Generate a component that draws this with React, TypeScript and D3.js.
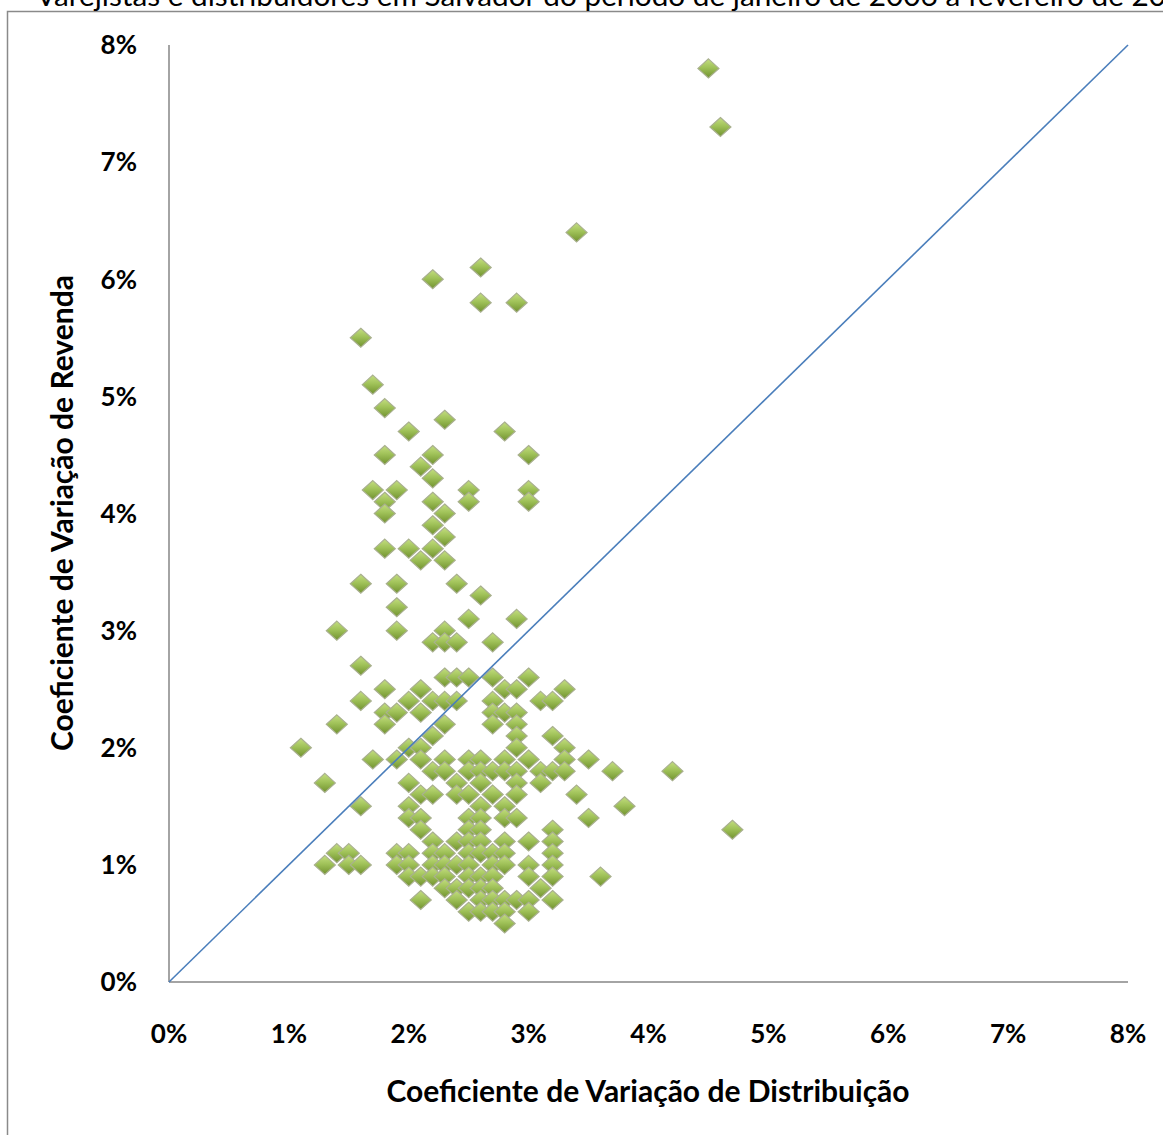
import React, { useEffect, useRef } from 'react';
import * as d3 from 'd3';

// Coeficiente de variação: [distribuição %, revenda %]
const pontos: [number, number][] = [
  [4.5, 7.8], [4.6, 7.3], [3.4, 6.4], [2.6, 6.1], [2.2, 6.0], [2.6, 5.8], [2.9, 5.8],
  [1.6, 5.5], [1.7, 5.1], [1.8, 4.9], [2.3, 4.8], [2.0, 4.7], [2.8, 4.7],
  [1.8, 4.5], [2.2, 4.5], [3.0, 4.5], [2.1, 4.4], [2.2, 4.3],
  [1.7, 4.2], [1.9, 4.2], [2.5, 4.2], [3.0, 4.2],
  [1.8, 4.1], [2.2, 4.1], [2.5, 4.1], [3.0, 4.1],
  [1.8, 4.0], [2.3, 4.0], [2.2, 3.9], [2.3, 3.8],
  [1.8, 3.7], [2.0, 3.7], [2.2, 3.7], [2.1, 3.6], [2.3, 3.6],
  [1.6, 3.4], [1.9, 3.4], [2.4, 3.4], [2.6, 3.3], [1.9, 3.2], [2.5, 3.1], [2.9, 3.1],
  [1.4, 3.0], [1.9, 3.0], [2.3, 3.0],
  [2.2, 2.9], [2.3, 2.9], [2.4, 2.9], [2.7, 2.9],
  [1.6, 2.7],
  [2.3, 2.6], [2.4, 2.6], [2.5, 2.6], [2.7, 2.6], [3.0, 2.6],
  [1.8, 2.5], [2.1, 2.5], [2.8, 2.5], [2.9, 2.5], [3.3, 2.5],
  [1.6, 2.4], [2.0, 2.4], [2.2, 2.4], [2.3, 2.4], [2.4, 2.4], [2.7, 2.4], [3.1, 2.4], [3.2, 2.4],
  [1.8, 2.3], [1.9, 2.3], [2.1, 2.3], [2.7, 2.3], [2.8, 2.3], [2.9, 2.3],
  [1.4, 2.2], [1.8, 2.2], [2.3, 2.2], [2.7, 2.2], [2.9, 2.2],
  [2.2, 2.1], [2.9, 2.1], [3.2, 2.1],
  [1.1, 2.0], [2.0, 2.0], [2.1, 2.0], [2.9, 2.0], [3.3, 2.0],
  [1.7, 1.9], [1.9, 1.9], [2.1, 1.9], [2.3, 1.9], [2.5, 1.9], [2.6, 1.9], [2.8, 1.9], [3.0, 1.9], [3.3, 1.9], [3.5, 1.9],
  [2.2, 1.8], [2.3, 1.8], [2.5, 1.8], [2.6, 1.8], [2.7, 1.8], [2.8, 1.8], [2.9, 1.8], [3.1, 1.8], [3.2, 1.8], [3.3, 1.8], [3.7, 1.8], [4.2, 1.8],
  [1.3, 1.7], [2.0, 1.7], [2.4, 1.7], [2.6, 1.7], [2.9, 1.7], [3.1, 1.7],
  [2.1, 1.6], [2.2, 1.6], [2.4, 1.6], [2.5, 1.6], [2.7, 1.6], [2.9, 1.6], [3.4, 1.6],
  [1.6, 1.5], [2.0, 1.5], [2.6, 1.5], [2.8, 1.5], [3.8, 1.5],
  [2.0, 1.4], [2.1, 1.4], [2.5, 1.4], [2.6, 1.4], [2.8, 1.4], [2.9, 1.4], [3.5, 1.4],
  [2.1, 1.3], [2.5, 1.3], [2.6, 1.3], [3.2, 1.3], [4.7, 1.3],
  [2.2, 1.2], [2.4, 1.2], [2.5, 1.2], [2.6, 1.2], [2.8, 1.2], [3.0, 1.2], [3.2, 1.2],
  [1.4, 1.1], [1.5, 1.1], [1.9, 1.1], [2.0, 1.1], [2.2, 1.1], [2.3, 1.1], [2.5, 1.1], [2.6, 1.1], [2.7, 1.1], [2.8, 1.1], [3.2, 1.1],
  [1.3, 1.0], [1.5, 1.0], [1.6, 1.0], [1.9, 1.0], [2.0, 1.0], [2.2, 1.0], [2.3, 1.0], [2.4, 1.0], [2.5, 1.0], [2.7, 1.0], [2.8, 1.0], [3.0, 1.0], [3.2, 1.0],
  [2.0, 0.9], [2.1, 0.9], [2.2, 0.9], [2.3, 0.9], [2.5, 0.9], [2.6, 0.9], [2.7, 0.9], [3.0, 0.9], [3.2, 0.9], [3.6, 0.9],
  [2.3, 0.8], [2.4, 0.8], [2.5, 0.8], [2.6, 0.8], [2.7, 0.8], [3.1, 0.8],
  [2.1, 0.7], [2.4, 0.7], [2.6, 0.7], [2.7, 0.7], [2.8, 0.7], [2.9, 0.7], [3.0, 0.7], [3.2, 0.7],
  [2.5, 0.6], [2.6, 0.6], [2.7, 0.6], [2.8, 0.6], [3.0, 0.6],
  [2.8, 0.5],
];

// reta de referência y = x
const diagonal: [number, number][] = [[0, 0], [8, 8]];

const ticks = [0, 1, 2, 3, 4, 5, 6, 7, 8];

const titulo = 'Varejistas e distribuidores em Salvador do período de janeiro de 2006 a fevereiro de 20';
const tituloX = 'Coeficiente de Variação de Distribuição';
const tituloY = 'Coeficiente de Variação de Revenda';

export default function App() {
  const svgRef = useRef<SVGSVGElement>(null);

  useEffect(() => {
    const width = 1163;
    const height = 1135;
    const font = 'Lato, "Open Sans", sans-serif';

    const svg = d3.select(svgRef.current);
    svg.selectAll('*').remove();
    svg.attr('width', width).attr('height', height);

    const x = d3.scaleLinear().domain([0, 8]).range([169, 1128]);
    const y = d3.scaleLinear().domain([0, 8]).range([982, 45]);

    const defs = svg.append('defs');
    const grad = defs.append('linearGradient')
      .attr('id', 'marker-fill')
      .attr('x1', 0).attr('y1', 0).attr('x2', 0).attr('y2', 1);
    grad.append('stop').attr('offset', '0%').attr('stop-color', '#c4de80');
    grad.append('stop').attr('offset', '45%').attr('stop-color', '#a0c259');
    grad.append('stop').attr('offset', '100%').attr('stop-color', '#71922f');

    // moldura (cortada)
    svg.append('path')
      .attr('d', `M7.5,${height} L7.5,11.5 L${width},11.5`)
      .attr('fill', 'none')
      .attr('stroke', '#8a8a8a')
      .attr('stroke-width', 1.5);

    svg.append('text')
      .attr('x', 36)
      .attr('y', 6)
      .attr('font-family', font)
      .attr('font-size', 29)
      .attr('textLength', 1130)
      .attr('lengthAdjust', 'spacingAndGlyphs')
      .attr('fill', '#000')
      .text(titulo);

    // eixos sem marcas
    svg.append('line')
      .attr('x1', x(0)).attr('x2', x(0))
      .attr('y1', y(8)).attr('y2', y(0))
      .attr('stroke', '#868686').attr('stroke-width', 1.5);
    svg.append('line')
      .attr('x1', x(0)).attr('x2', x(8))
      .attr('y1', y(0)).attr('y2', y(0))
      .attr('stroke', '#868686').attr('stroke-width', 1.5);

    svg.selectAll('text.ytick')
      .data(ticks)
      .enter()
      .append('text')
      .attr('class', 'ytick')
      .attr('x', 137)
      .attr('y', d => y(d))
      .attr('dy', '0.36em')
      .attr('text-anchor', 'end')
      .attr('font-family', font)
      .attr('font-weight', 'bold')
      .attr('font-size', 26)
      .text(d => `${d}%`);

    svg.selectAll('text.xtick')
      .data(ticks)
      .enter()
      .append('text')
      .attr('class', 'xtick')
      .attr('x', d => x(d))
      .attr('y', 1043)
      .attr('text-anchor', 'middle')
      .attr('font-family', font)
      .attr('font-weight', 'bold')
      .attr('font-size', 26)
      .text(d => `${d}%`);

    svg.append('text')
      .attr('x', 648)
      .attr('y', 1102)
      .attr('text-anchor', 'middle')
      .attr('font-family', font)
      .attr('font-weight', 'bold')
      .attr('font-size', 30)
      .text(tituloX);

    svg.append('text')
      .attr('transform', 'translate(73,513) rotate(-90)')
      .attr('text-anchor', 'middle')
      .attr('font-family', font)
      .attr('font-weight', 'bold')
      .attr('font-size', 30)
      .text(tituloY);

    // marcadores em losango
    const diamond = 'M0,-9.5 L10.5,0 L0,9.5 L-10.5,0 Z';
    svg.append('g')
      .selectAll('path')
      .data(pontos)
      .enter()
      .append('path')
      .attr('d', diamond)
      .attr('transform', d => `translate(${x(d[0])},${y(d[1])})`)
      .attr('fill', 'url(#marker-fill)')
      .attr('stroke', '#a9b08f')
      .attr('stroke-width', 1.2);

    const line = d3.line<[number, number]>()
      .x(d => x(d[0]))
      .y(d => y(d[1]));

    svg.append('path')
      .datum(diagonal)
      .attr('d', line)
      .attr('fill', 'none')
      .attr('stroke', '#4a7ebb')
      .attr('stroke-width', 1.6);
  }, []);

  return <svg ref={svgRef} style={{ position: 'absolute', left: 0, top: 0 }}></svg>;
}
